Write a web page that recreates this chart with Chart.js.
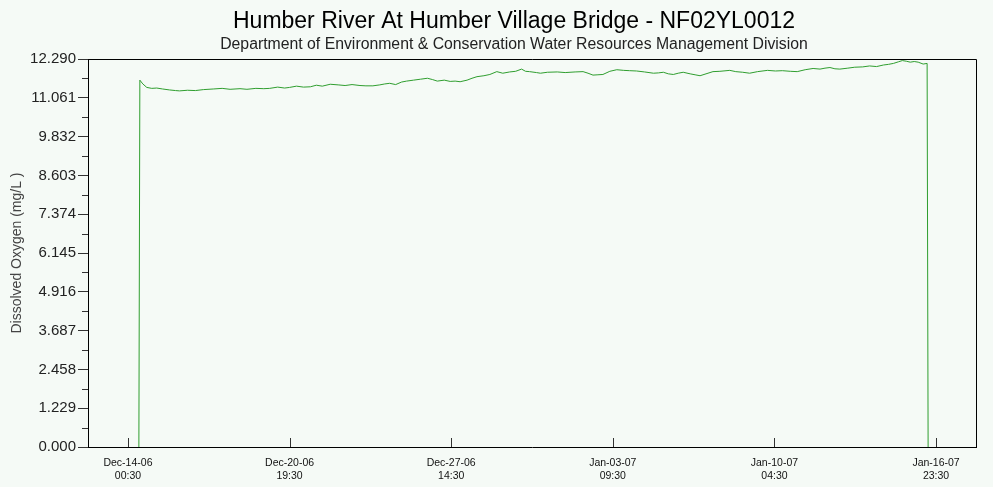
<!DOCTYPE html>
<html>
<head>
<meta charset="utf-8">
<script src="https://cdn.jsdelivr.net/npm/chart.js@4.4.1/dist/chart.umd.min.js"></script>
<style>
  html, body { margin: 0; padding: 0; background: #f5faf6; }
  #chart { display: block; }
</style>
</head>
<body>
<canvas id="chart" width="993" height="487"></canvas>
<script>
// Chart texts
const TITLE = 'Humber River At Humber Village Bridge - NF02YL0012';
const SUBTITLE = 'Department of Environment & Conservation Water Resources Management Division';
const Y_TITLE = 'Dissolved Oxygen (mg/L )';

// X axis: hours elapsed since Dec-14-06 00:30
const xTickHours = [0, 163, 326, 489, 652, 815];
const xTickLabels = [
  ['Dec-14-06', '00:30'],
  ['Dec-20-06', '19:30'],
  ['Dec-27-06', '14:30'],
  ['Jan-03-07', '09:30'],
  ['Jan-10-07', '04:30'],
  ['Jan-16-07', '23:30']
];
const xMinHours = -40.3;
const xMaxHours = 855.3;

// Y axis
const yTickValues = [0, 1.229, 2.458, 3.687, 4.916, 6.145, 7.374, 8.603, 9.832, 11.061, 12.29];

// Dissolved oxygen series (hours since start, mg/L)
const hours = [
  11, 12, 15, 19, 24, 29, 35, 42, 48, 52, 60, 68, 76, 86, 95, 103, 113, 120, 129, 137,
  143, 151, 158, 163, 170, 177, 184, 190, 196, 204, 212, 219, 226, 234, 240, 247, 254, 259, 264, 270,
  276, 281, 288, 295, 302, 307, 312, 319, 325, 330, 335, 342, 347, 352, 359, 365, 372, 378, 385, 391,
  397, 401, 405, 412, 416, 423, 433, 441, 451, 459, 464, 469, 474, 479, 486, 493, 500, 506, 513, 521,
  530, 535, 540, 545, 550, 555, 560, 567, 572, 577, 584, 590, 597, 607, 613, 620, 627, 635, 645, 653,
  660, 668, 675, 683, 691, 698, 703, 708, 713, 718, 726, 733, 741, 748, 755, 762, 767, 772, 777, 781,
  785, 789, 793, 797, 802, 806, 807
];
const oxygen = [
  0, 11.62, 11.50, 11.39, 11.36, 11.37, 11.34, 11.31, 11.29, 11.28, 11.30, 11.29, 11.32, 11.34, 11.36, 11.33, 11.35, 11.33, 11.36, 11.35,
  11.36, 11.40, 11.37, 11.39, 11.43, 11.40, 11.41, 11.46, 11.43, 11.49, 11.47, 11.45, 11.48, 11.45, 11.44, 11.44, 11.47, 11.50, 11.52, 11.48,
  11.56, 11.59, 11.62, 11.65, 11.68, 11.64, 11.59, 11.62, 11.58, 11.59, 11.57, 11.62, 11.68, 11.73, 11.76, 11.80, 11.89, 11.84, 11.88, 11.90,
  11.97, 11.90, 11.89, 11.86, 11.84, 11.87, 11.88, 11.86, 11.88, 11.89, 11.84, 11.78, 11.79, 11.80, 11.90, 11.95, 11.93, 11.92, 11.91, 11.88,
  11.84, 11.85, 11.87, 11.82, 11.80, 11.84, 11.87, 11.82, 11.79, 11.76, 11.83, 11.89, 11.90, 11.93, 11.89, 11.87, 11.84, 11.89, 11.93, 11.91,
  11.92, 11.90, 11.89, 11.95, 11.99, 11.97, 12.00, 12.02, 11.98, 11.97, 12.00, 12.03, 12.04, 12.07, 12.05, 12.10, 12.12, 12.15, 12.20, 12.24,
  12.22, 12.19, 12.21, 12.19, 12.13, 12.15, 0
];

const BG = '#f5faf6';
const LINE_GREEN = '#2f9e2f';

// Background, titles, frame and the hand-made ticks the library does not offer
const framePlugin = {
  id: 'frame',
  beforeDraw(chart) {
    const { ctx, width, height } = chart;
    ctx.save();
    ctx.fillStyle = BG;
    ctx.fillRect(0, 0, width, height);
    ctx.restore();
  },
  afterDraw(chart) {
    const { ctx, chartArea } = chart;
    const x = chart.scales.x;
    const y = chart.scales.y;
    ctx.save();
    ctx.strokeStyle = '#000';
    ctx.lineWidth = 1;
    ctx.beginPath();
    ctx.moveTo(chartArea.left, chartArea.top + 0.5);
    ctx.lineTo(chartArea.right + 0.5, chartArea.top + 0.5);
    ctx.lineTo(chartArea.right + 0.5, chartArea.bottom);
    ctx.stroke();

    // minor y ticks
    ctx.beginPath();
    for (let i = 0; i < yTickValues.length - 1; i++) {
      const py = Math.round(y.getPixelForValue((yTickValues[i] + yTickValues[i + 1]) / 2)) + 0.5;
      ctx.moveTo(chartArea.left - 6, py);
      ctx.lineTo(chartArea.left, py);
    }
    // x ticks pointing up into the plot
    xTickHours.forEach(h => {
      const px = Math.round(x.getPixelForValue(h)) + 0.5;
      ctx.moveTo(px, chartArea.bottom);
      ctx.lineTo(px, chartArea.bottom - 9);
    });
    ctx.strokeStyle = '#333';
    ctx.stroke();

    // titles
    ctx.fillStyle = '#000';
    ctx.textAlign = 'center';
    ctx.textBaseline = 'alphabetic';
    ctx.font = '23px "Liberation Sans", Arial, sans-serif';
    ctx.fillText(TITLE, 514, 28);
    ctx.fillStyle = '#222';
    ctx.font = '15.8px "Liberation Sans", Arial, sans-serif';
    ctx.fillText(SUBTITLE, 514, 49);
    ctx.restore();
  }
};

new Chart(document.getElementById('chart'), {
  type: 'line',
  data: {
    datasets: [{
      data: hours.map((h, i) => ({ x: h, y: oxygen[i] })),
      borderColor: LINE_GREEN,
      borderWidth: 1,
      pointRadius: 0,
      tension: 0,
      fill: false,
      clip: false
    }]
  },
  options: {
    responsive: false,
    animation: false,
    layout: { padding: { left: 0, right: 17, top: 59, bottom: 0 } },
    plugins: {
      legend: { display: false },
      tooltip: { enabled: false }
    },
    scales: {
      x: {
        type: 'linear',
        min: xMinHours,
        max: xMaxHours,
        afterBuildTicks: scale => { scale.ticks = xTickHours.map(v => ({ value: v })); },
        afterFit: scale => { scale.height = 40; },
        grid: { display: false, drawTicks: false },
        border: { display: true, color: '#000', width: 1 },
        ticks: {
          autoSkip: false,
          maxRotation: 0,
          padding: 10,
          color: '#111',
          font: { family: '"Liberation Sans", Arial, sans-serif', size: 10.5 },
          callback: (v, i) => xTickLabels[i]
        }
      },
      y: {
        min: 0,
        max: 12.29,
        afterBuildTicks: scale => { scale.ticks = yTickValues.map(v => ({ value: v })); },
        afterFit: scale => { scale.width = 88; },
        grid: { drawOnChartArea: false, drawTicks: true, tickLength: 10, color: '#333' },
        border: { display: true, color: '#000', width: 1 },
        ticks: {
          padding: 2,
          color: '#222',
          font: { family: '"Liberation Sans", Arial, sans-serif', size: 15 },
          callback: v => v.toFixed(3)
        },
        title: {
          display: true,
          text: Y_TITLE,
          color: '#444',
          padding: { top: 9, bottom: 0 },
          font: { family: '"Liberation Sans", Arial, sans-serif', size: 14 }
        }
      }
    }
  },
  plugins: [framePlugin]
});
</script>
</body>
</html>
